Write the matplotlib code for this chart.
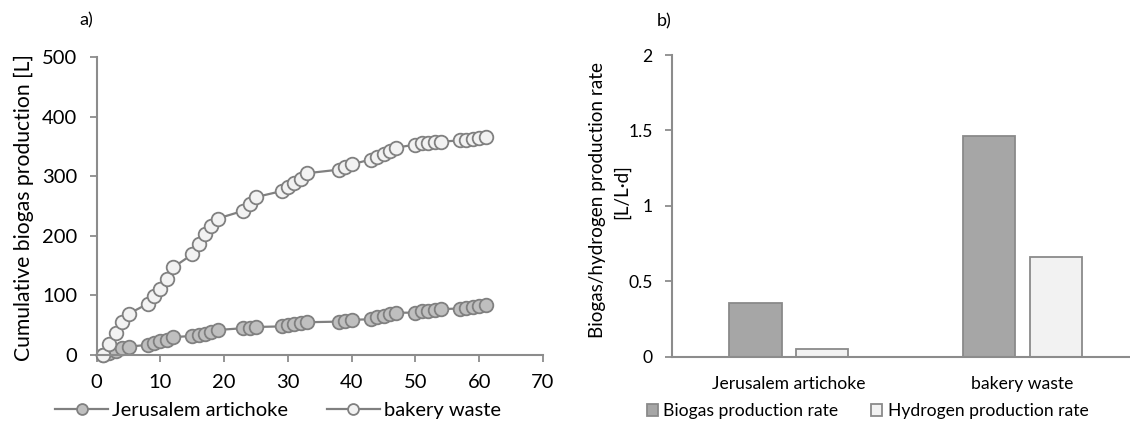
import numpy as np
import matplotlib
matplotlib.use("Agg")
import matplotlib.pyplot as plt
from matplotlib.patches import Patch

# ==============================================================================
# DATA
# ==============================================================================
ja_days = [1, 2, 3, 4, 5, 8, 9, 10, 11, 12, 15, 16, 17, 18, 19, 23, 24, 25,
           29, 30, 31, 32, 33, 38, 39, 40, 43, 44, 45, 46, 47, 50, 51, 52, 53, 54,
           57, 58, 59, 60, 61]
ja_biogas = [0, 3, 7, 11, 14, 17, 20, 23, 26, 30, 32, 34, 36, 39, 42, 45, 46, 47,
             48, 50, 52, 54, 55, 56, 57, 59, 60, 63, 65, 68, 71, 71, 73, 74, 75, 77,
             78, 79, 81, 82, 84]

bw_days = ja_days
bw_biogas = [0, 18, 37, 55, 69, 86, 99, 111, 128, 147, 169, 186, 203, 217, 229,
             242, 253, 265, 275, 282, 289, 296, 305, 311, 315, 320, 328, 333, 337,
             343, 348, 353, 355, 356, 357, 358, 360, 361, 362, 364, 365]

substrates = ["Jerusalem artichoke", "bakery waste"]
biogas_rate = [0.353, 1.46]
hydrogen_rate = [0.053, 0.661]

# ==============================================================================
# STYLE
# ==============================================================================
plt.rcParams["font.family"] = ["Lato", "DejaVu Sans"]
FS_A = 14.5   # panel a) text
FS_B = 12.6   # panel b) text is a bit smaller
AX_GREY = "#8c8c8c"
LINE_GREY = "#808080"

W, H = 1130, 421
fig = plt.figure(figsize=(W / 100, H / 100), dpi=100)


def px_axes(left, top, right, bottom):
    return fig.add_axes([left / W, 1 - bottom / H, (right - left) / W, (bottom - top) / H])


def style_spines(ax):
    for s in ["top", "right"]:
        ax.spines[s].set_visible(False)
    for s in ["left", "bottom"]:
        ax.spines[s].set_color(AX_GREY)
        ax.spines[s].set_linewidth(1.5)


# ------------------------------------------------------------------ a) --------
ax1 = px_axes(96.7, 57, 543, 355)
style_spines(ax1)
mk = dict(marker="o", ms=9.8, mew=1.3, mec=LINE_GREY, color=LINE_GREY, lw=1.6)
ax1.plot(ja_days, ja_biogas, mfc="#bfbfbf", label="Jerusalem artichoke", clip_on=False, **mk)
ax1.plot(bw_days, bw_biogas, mfc="#f2f2f2", label="bakery waste", clip_on=False, **mk)
ax1.set_xlim(0, 70)
ax1.set_ylim(0, 500)
ax1.set_xticks(range(0, 71, 10))
ax1.set_yticks(range(0, 501, 100))
ax1.tick_params(axis="both", direction="out", length=5, width=1.3, color=AX_GREY,
                labelsize=FS_A)
ax1.tick_params(axis="x", pad=9)
ax1.tick_params(axis="y", pad=9)
fig.text(23.5 / W, 1 - 208 / H, "Cumulative biogas production [L]",
         rotation=90, ha="center", va="center", fontsize=15.2)
h1, l1 = ax1.get_legend_handles_labels()
fig.legend(h1, l1, loc="center left", bbox_to_anchor=(55 / W, 1 - 410 / H), ncol=2,
           frameon=False, handlelength=2.65, columnspacing=1.9, handletextpad=0.2,
           borderaxespad=0, borderpad=0, markerscale=0.8, fontsize=FS_A)
fig.text(86 / W, 1 - 20 / H, "a)", ha="center", va="center", fontsize=13)

# ------------------------------------------------------------------ b) --------
ax2 = px_axes(672, 55, 1139.5, 356.7)
style_spines(ax2)
x = np.arange(len(substrates))
bw = 0.223
ax2.bar(x - 0.143, biogas_rate, bw, color="#a6a6a6", edgecolor="#8a8a8a", lw=1.3)
ax2.bar(x + 0.143, hydrogen_rate, bw, color="#f2f2f2", edgecolor="#8a8a8a", lw=1.3)
ax2.set_xlim(-0.5, 1.5)
ax2.set_ylim(0, 2)
ax2.set_yticks([0, 0.5, 1, 1.5, 2])
ax2.set_yticklabels(["0", "0.5", "1", "1.5", "2"])
ax2.set_xticks(x)
ax2.set_xticklabels(substrates)
ax2.tick_params(axis="y", direction="out", length=5, width=1.3, color=AX_GREY, pad=9,
                labelsize=FS_B)
ax2.tick_params(axis="x", length=0, pad=14, labelsize=FS_B)
fig.text(598 / W, 1 - 200 / H, "Biogas/hydrogen production rate",
         rotation=90, ha="center", va="center", fontsize=13.6)
fig.text(622 / W, 1 - 192 / H, "[L/L\u00b7d]",
         rotation=90, ha="center", va="center", fontsize=13.6)
handles = [Patch(facecolor="#a6a6a6", edgecolor="#8a8a8a", lw=1.3),
           Patch(facecolor="#f2f2f2", edgecolor="#8a8a8a", lw=1.3)]
fig.legend(handles, ["Biogas production rate", "Hydrogen production rate"],
           loc="center left", bbox_to_anchor=(647 / W, 1 - 411 / H), ncol=2,
           frameon=False, handlelength=0.62, handleheight=0.62, handletextpad=0.3,
           columnspacing=1.9, borderaxespad=0, borderpad=0, fontsize=FS_B)
fig.text(664 / W, 1 - 21 / H, "b)", ha="center", va="center", fontsize=13)

fig.savefig("out.png", dpi=100)
